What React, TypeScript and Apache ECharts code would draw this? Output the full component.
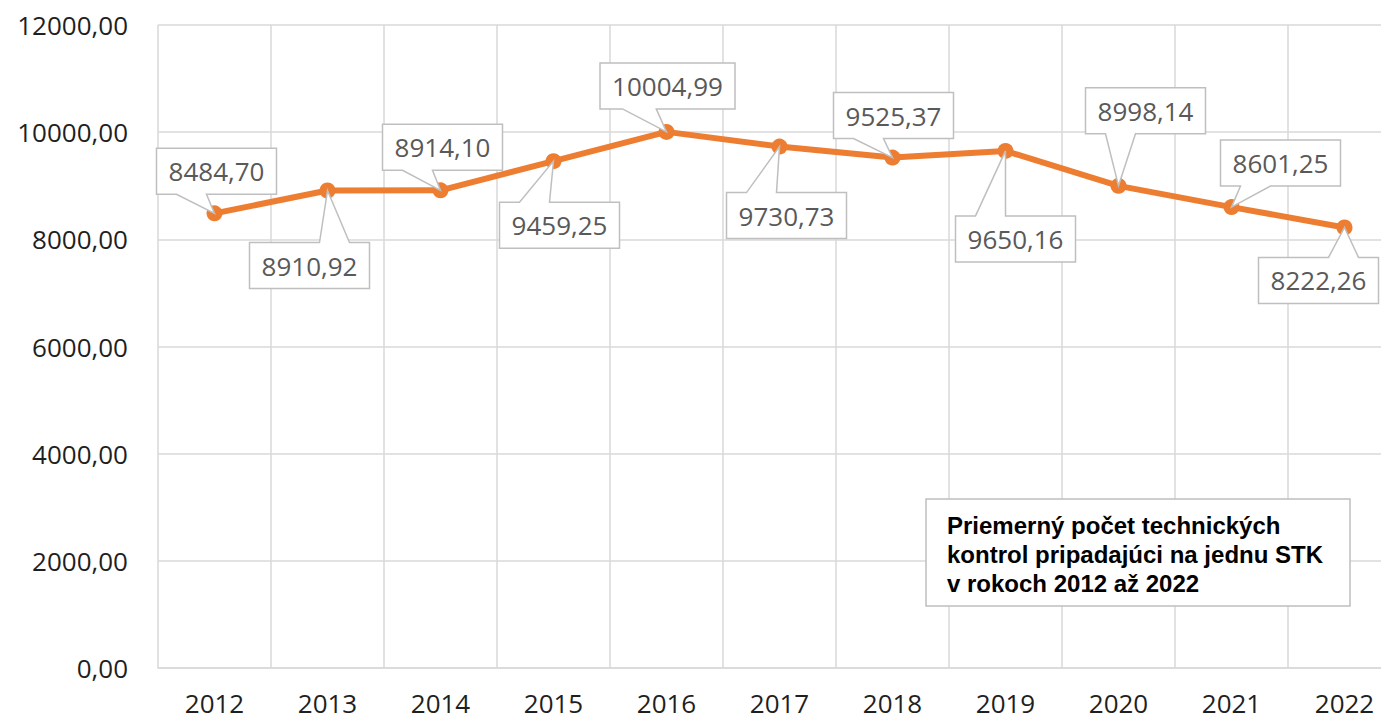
import React, { useEffect, useRef } from "react";
import * as echarts from "echarts";

// ---- data ----
const years = ["2012", "2013", "2014", "2015", "2016", "2017", "2018", "2019", "2020", "2021", "2022"];
const avgInspections = [8484.7, 8910.92, 8914.1, 9459.25, 10004.99, 9730.73, 9525.37, 9650.16, 8998.14, 8601.25, 8222.26];
const yMin = 0;
const yMax = 12000;
const yStep = 2000;
const titleLines = [
  "Priemerný počet technických",
  "kontrol pripadajúci na jednu STK",
  "v rokoch 2012 až 2022",
];

// ---- layout (callout box offset from its point, px) ----
const calloutOffsets: [number, number][] = [
  [2, -42], [-18, 75], [2, -43], [6, 64], [1, -46], [7, 69],
  [1, -42], [10, 88], [27, -75], [49, -44], [-26, 53],
];

const fmt = (v: number) => v.toFixed(2).replace(".", ",");
const LABEL_FONT = '26px "Open Sans"';

let measureCtx: CanvasRenderingContext2D | null = null;
const measure = (t: string) => {
  if (!measureCtx) {
    measureCtx = document.createElement("canvas").getContext("2d");
  }
  if (!measureCtx) return t.length * 14;
  measureCtx.font = LABEL_FONT;
  return measureCtx.measureText(t).width;
};

export default function App() {
  const ref = useRef<HTMLDivElement>(null);
  useEffect(() => {
    if (!ref.current) return;
    const chart = echarts.init(ref.current, undefined, { renderer: "svg" });
    const gridColor = "#d9d9d9";
    chart.setOption({
      animation: false,
      backgroundColor: "#fff",
      grid: { left: 158, right: 0, top: 25, bottom: 52, containLabel: false, outerBoundsMode: "none" },
      xAxis: {
        type: "category",
        data: years,
        boundaryGap: true,
        axisLine: { show: true, lineStyle: { color: gridColor, width: 1.5 } },
        axisTick: { show: false },
        splitLine: { show: true, lineStyle: { color: gridColor, width: 1.5 } },
        axisLabel: { fontSize: 26, color: "#1f1f1f", fontFamily: "Open Sans", margin: 22 },
      },
      yAxis: {
        type: "value",
        min: yMin,
        max: yMax,
        interval: yStep,
        axisLine: { show: false },
        axisTick: { show: false },
        splitLine: { show: true, lineStyle: { color: gridColor, width: 1.5 } },
        axisLabel: {
          fontSize: 26,
          color: "#1f1f1f",
          fontFamily: "Open Sans",
          margin: 30,
          formatter: (v: number) => fmt(v),
        },
      },
      series: [
        {
          type: "line",
          data: avgInspections,
          symbol: "circle",
          symbolSize: 16,
          itemStyle: { color: "#ED7D31" },
          lineStyle: { color: "#ED7D31", width: 6 },
          z: 2,
        },
        {
          type: "custom",
          z: 5,
          data: avgInspections.map((v, i) => [i, v]),
          encode: { x: 0, y: 1 },
          renderItem: (params: any, api: any) => {
            const v = api.value(1);
            const p = api.coord([api.value(0), v]);
            const off = calloutOffsets[params.dataIndex];
            const text = fmt(v);
            const w = Math.round(measure(text) + 24);
            const h = 46;
            const cx = p[0] + off[0];
            const cy = p[1] + off[1];
            const l = cx - w / 2;
            const t = cy - h / 2;
            const r = l + w;
            const b = t + h;
            const rightSide = p[0] - cx > 0;
            const x1 = l + (w * (rightSide ? 7 : 2)) / 12;
            const x2 = l + (w * (rightSide ? 10 : 5)) / 12;
            let pts: number[][];
            if (p[1] > cy) {
              pts = [[l, t], [r, t], [r, b], [x2, b], [p[0], p[1]], [x1, b], [l, b]];
            } else {
              pts = [[l, t], [x1, t], [p[0], p[1]], [x2, t], [r, t], [r, b], [l, b]];
            }
            return {
              type: "group",
              children: [
                {
                  type: "polygon",
                  shape: { points: pts },
                  style: { fill: "#fff", stroke: "#bfbfbf", lineWidth: 1.5 },
                },
                {
                  type: "text",
                  style: {
                    text,
                    x: cx,
                    y: cy,
                    align: "center",
                    verticalAlign: "middle",
                    font: LABEL_FONT,
                    fill: "#595959",
                  },
                },
              ],
            };
          },
        },
      ],
      graphic: [
        {
          type: "rect",
          z: 100,
          shape: { x: 926, y: 499, width: 424, height: 107 },
          style: { fill: "#fff", stroke: "#bfbfbf", lineWidth: 1.5 },
        },
        {
          type: "text",
          z: 101,
          x: 947,
          y: 511,
          style: {
            text: titleLines.join("\n"),
            font: 'bold 24px "Liberation Sans", Arial, sans-serif',
            fill: "#000",
            lineHeight: 29,
            verticalAlign: "top",
          },
        },
      ],
    });
    return () => chart.dispose();
  }, []);
  return (
    <div style={{ position: "fixed", left: 0, top: 0, width: 1381, height: 720, overflow: "hidden", background: "#fff" }}>
      <div ref={ref} style={{ width: 1401, height: 720 }} />
    </div>
  );
}
